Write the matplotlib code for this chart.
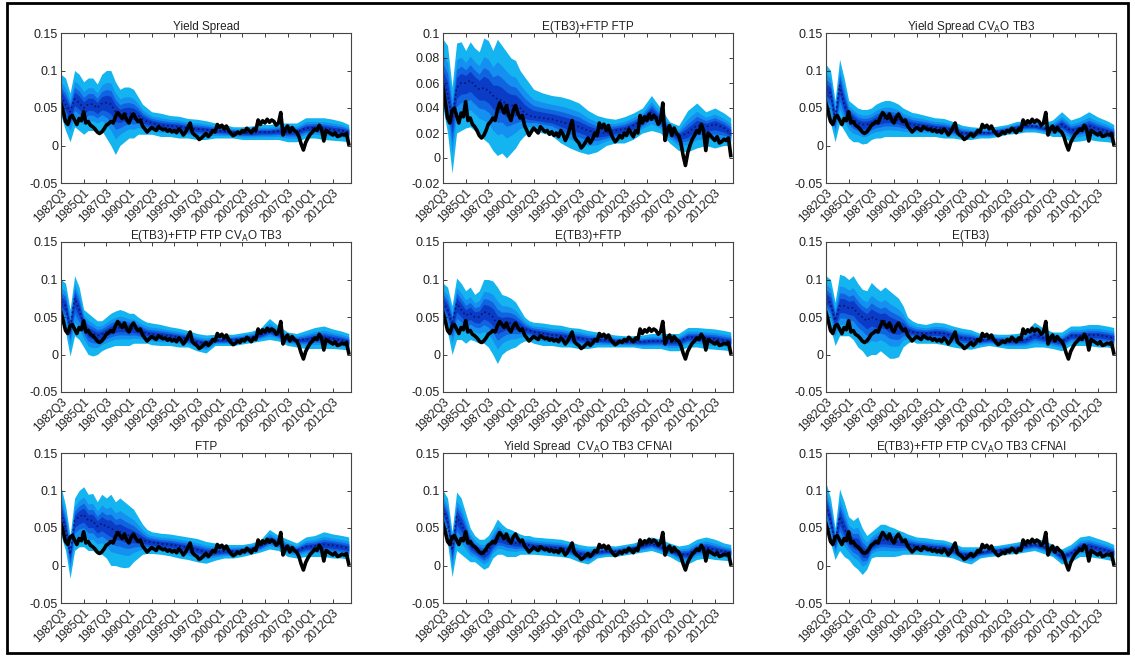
import numpy as np
import matplotlib.pyplot as plt
from matplotlib.patches import Rectangle
from matplotlib.ticker import FormatStrFormatter

plt.rcParams['font.family'] = ['Liberation Sans', 'DejaVu Sans']

# quarterly sample 1982Q3 .. 2014Q2, index 0 = 1982Q3
tick_pos = [0, 10, 20, 30, 40, 50, 60, 70, 80, 90, 100, 110, 120]
tick_labels = ['1982Q3', '1985Q1', '1987Q3', '1990Q1', '1992Q3', '1995Q1', '1997Q3',
               '2000Q1', '2002Q3', '2005Q1', '2007Q3', '2010Q1', '2012Q3']

# realised series (black line), same in every panel
realized = [.056, .045, .032, .028, .038, .040, .034, .028, .036, .033,
            .045, .030, .032, .027, .025, .022, .018, .016, .018, .022,
            .027, .029, .032, .030, .038, .044, .040, .036, .042, .034,
            .030, .038, .042, .036, .032, .034, .026, .022, .018, .021,
            .024, .022, .020, .025, .023, .021, .022, .019, .021, .018,
            .020, .017, .022, .019, .014, .018, .024, .030, .017, .014,
            .012, .008, .010, .013, .016, .012, .015, .020, .018, .028,
            .024, .027, .022, .026, .020, .016, .013, .015, .018, .016,
            .020, .018, .023, .020, .017, .022, .020, .034, .028, .033,
            .030, .035, .031, .034, .032, .027, .030, .044, .014, .022,
            .026, .018, .024, .020, .018, .012, .002, -.006, .004, .010,
            .015, .018, .022, .020, .027, .022, .006, .020, .018, .016,
            .014, .017, .012, .013, .015, .014, .016, .002]

# quarters at which the predictive distribution is stored
knots = list(range(0, 41, 2)) + list(range(44, 125, 4)) + [127]

# predictive median and 90% bounds for each model
ys_med = [.066, .055, .045, .062, .057, .05, .055, .055, .05, .056, .057, .055, .045, .04, .042, .043, .042, .04, .035, .032, .03,
          .027, .026, .025, .023, .022, .021, .02, .019, .018, .017, .017, .018, .018, .019, .018, .018, .023, .024, .023, .021, .02, .018]
ys_hi = [.095, .09, .07, .10, .095, .085, .09, .09, .082, .095, .10, .10, .085, .075, .078, .078, .075, .065, .055, .05, .045,
         .043, .04, .039, .036, .035, .033, .03, .028, .025, .025, .026, .028, .028, .03, .03, .03, .037, .037, .037, .035, .032, .028]
ys_lo = [.04, .02, .005, .025, .02, .015, .02, .02, .018, .02, .01, .0, -.012, .0, .005, .01, .01, .015, .015, .015, .015,
         .012, .012, .01, .01, .008, .008, .01, .01, .01, .008, .008, .008, .008, .008, .005, .005, .01, .01, .008, .007, .006, .005]

tpftp_med = [.062, .052, .03, .056, .06, .06, .062, .058, .055, .056, .054, .05, .047, .046, .043, .042, .042, .04, .036, .034, .033,
             .032, .031, .029, .027, .025, .022, .02, .02, .022, .023, .026, .03, .037, .03, .022, .017, .02, .026, .025, .027, .024, .02]
tpftp_hi = [.095, .09, .057, .092, .093, .086, .093, .088, .085, .096, .094, .086, .095, .09, .085, .08, .078, .07, .065, .06, .055,
            .052, .05, .049, .047, .044, .038, .034, .032, .031, .033, .036, .04, .05, .04, .029, .026, .038, .044, .037, .04, .036, .032]
tpftp_lo = [.04, .02, -.012, .02, .022, .024, .025, .022, .018, .015, .012, .006, .002, .004, .0, .004, .008, .014, .018, .02, .022,
            .02, .018, .012, .008, .005, .003, .005, .01, .012, .012, .015, .02, .022, .02, .012, .006, .005, .008, .01, .008, .01, .01]

yscva_med = [.075, .07, .035, .08, .055, .04, .035, .03, .028, .028, .03, .033, .035, .036, .036, .035, .034, .031, .03, .028, .027,
             .026, .024, .023, .021, .017, .016, .017, .017, .019, .021, .024, .026, .026, .023, .022, .028, .02, .022, .026, .022, .019, .016]
yscva_hi = [.108, .10, .06, .115, .09, .06, .055, .05, .048, .048, .05, .055, .058, .06, .06, .058, .055, .05, .047, .044, .043,
            .04, .037, .036, .032, .027, .025, .024, .024, .026, .028, .032, .033, .034, .03, .034, .045, .034, .038, .045, .038, .033, .028]
yscva_lo = [.04, .03, .005, .03, .02, .01, .005, .005, .002, .003, .008, .01, .01, .012, .012, .012, .012, .012, .012, .012, .012,
            .012, .012, .01, .01, .008, .008, .01, .01, .012, .015, .016, .018, .018, .016, .012, .012, .005, .006, .008, .006, .005, .004]

tpftpcva_med = [.07, .065, .035, .075, .06, .04, .03, .028, .025, .027, .03, .033, .035, .036, .036, .035, .034, .032, .03, .028, .027,
                .026, .025, .023, .021, .017, .015, .019, .019, .02, .021, .023, .026, .032, .027, .021, .019, .02, .022, .023, .021, .019, .017]
tpftpcva_hi = [.10, .095, .06, .105, .09, .06, .055, .05, .045, .045, .05, .055, .058, .06, .058, .055, .055, .05, .046, .043, .042,
               .04, .037, .035, .032, .028, .026, .027, .027, .027, .029, .031, .035, .048, .038, .03, .028, .032, .036, .038, .034, .031, .028]
tpftpcva_lo = [.045, .03, -.002, .025, .02, .01, .0, -.002, .0, .005, .008, .01, .012, .012, .012, .012, .015, .015, .015, .015, .013,
               .012, .012, .01, .01, .005, .002, .012, .012, .012, .014, .016, .018, .02, .018, .012, .01, .008, .008, .008, .008, .007, .006]

tp_med = [.07, .06, .04, .068, .06, .052, .055, .05, .05, .057, .055, .05, .04, .04, .042, .042, .04, .037, .034, .032, .03,
          .028, .026, .025, .023, .022, .02, .02, .019, .018, .017, .017, .017, .018, .018, .017, .017, .023, .023, .022, .021, .019, .018]
tp_hi = [.095, .09, .065, .102, .095, .085, .09, .08, .085, .10, .10, .098, .09, .08, .078, .075, .07, .06, .05, .045, .043,
         .042, .04, .039, .036, .035, .032, .03, .028, .026, .025, .025, .026, .028, .028, .028, .028, .036, .036, .035, .034, .032, .03]
tp_lo = [.045, .03, .0, .02, .02, .015, .02, .018, .015, .015, .01, .0, -.012, .0, .005, .008, .01, .015, .018, .018, .015,
         .012, .012, .01, .01, .008, .008, .01, .01, .01, .01, .01, .008, .008, .008, .005, .005, .01, .01, .008, .007, .006, .005]

etb3_med = [.075, .068, .045, .065, .065, .062, .062, .055, .05, .045, .05, .047, .045, .045, .04, .038, .036, .035, .032, .03, .029,
            .028, .029, .028, .025, .022, .021, .019, .02, .019, .018, .018, .019, .026, .022, .019, .017, .025, .025, .026, .026, .024, .022]
etb3_hi = [.105, .10, .07, .107, .105, .10, .105, .095, .087, .085, .096, .09, .085, .09, .085, .08, .075, .065, .05, .045, .042,
           .04, .043, .042, .038, .035, .033, .028, .028, .027, .027, .028, .03, .043, .035, .03, .03, .038, .038, .04, .04, .038, .036]
etb3_lo = [.05, .035, .012, .025, .025, .025, .02, .01, .005, -.003, .0, .0, .005, .0, -.005, -.005, -.003, .01, .015, .018, .015,
           .015, .015, .013, .01, .008, .007, .01, .012, .01, .008, .008, .008, .01, .01, .008, .005, .012, .012, .012, .01, .01, .008]

ftp_med = [.07, .05, .015, .06, .065, .068, .06, .06, .052, .056, .052, .05, .045, .045, .042, .04, .038, .036, .034, .032, .031,
           .029, .028, .026, .024, .021, .018, .018, .019, .019, .02, .022, .026, .034, .03, .023, .02, .025, .026, .028, .027, .025, .023]
ftp_hi = [.105, .08, .04, .09, .10, .105, .095, .096, .085, .095, .09, .095, .085, .09, .085, .08, .075, .065, .055, .048, .045,
          .043, .042, .04, .038, .036, .032, .03, .028, .028, .028, .03, .034, .048, .04, .035, .03, .038, .04, .045, .042, .04, .038]
ftp_lo = [.04, .02, -.017, .02, .025, .025, .02, .02, .015, .015, .01, .0, .0, -.002, -.003, -.002, .005, .01, .015, .016, .016,
          .015, .013, .01, .008, .005, .003, .007, .01, .01, .012, .015, .018, .022, .02, .012, .01, .012, .012, .012, .01, .01, .008]

yscf_med = [.075, .06, .02, .065, .055, .042, .028, .022, .018, .015, .02, .03, .036, .035, .033, .032, .03, .029, .028, .027, .026,
            .025, .024, .023, .021, .016, .014, .018, .019, .019, .021, .023, .026, .029, .025, .021, .015, .015, .022, .024, .021, .019, .017]
yscf_hi = [.10, .09, .045, .098, .09, .07, .05, .04, .035, .035, .04, .05, .062, .055, .05, .048, .045, .042, .04, .04, .038,
           .037, .036, .035, .032, .028, .026, .026, .027, .026, .028, .03, .034, .038, .035, .03, .026, .028, .035, .038, .035, .03, .028]
yscf_lo = [.045, .03, -.015, .02, .015, .01, .005, .005, .0, -.005, -.002, .01, .015, .015, .012, .012, .012, .015, .015, .015, .015,
           .014, .013, .012, .01, .005, .002, .01, .012, .012, .014, .016, .018, .02, .016, .012, .005, .002, .008, .01, .008, .007, .006]

tpcf_med = [.08, .06, .03, .065, .05, .035, .03, .028, .018, .015, .027, .031, .034, .034, .033, .032, .031, .03, .028, .027, .026,
            .025, .024, .023, .02, .015, .014, .017, .019, .02, .022, .023, .026, .028, .025, .02, .012, .016, .025, .026, .023, .02, .017]
tpcf_hi = [.11, .09, .05, .102, .085, .065, .06, .065, .05, .04, .045, .05, .055, .055, .052, .05, .047, .045, .042, .04, .038,
           .037, .035, .034, .03, .025, .025, .025, .026, .027, .029, .031, .034, .036, .034, .028, .022, .028, .038, .04, .036, .032, .028]
tpcf_lo = [.05, .03, .008, .02, .012, .008, .0, -.005, -.012, -.005, .01, .012, .012, .012, .012, .012, .013, .015, .015, .015, .015,
           .014, .013, .012, .01, .005, .002, .01, .012, .013, .015, .016, .018, .02, .016, .012, .002, .005, .012, .012, .01, .008, .006]

titles = ['Yield Spread', 'E(TB3)+FTP FTP', r'Yield Spread CV$_\mathrm{A}$O TB3',
          r'E(TB3)+FTP FTP CV$_\mathrm{A}$O TB3', 'E(TB3)+FTP', 'E(TB3)',
          'FTP', r'Yield Spread  CV$_\mathrm{A}$O TB3 CFNAI', r'E(TB3)+FTP FTP CV$_\mathrm{A}$O TB3 CFNAI']
meds = [ys_med, tpftp_med, yscva_med, tpftpcva_med, tp_med, etb3_med, ftp_med, yscf_med, tpcf_med]
his = [ys_hi, tpftp_hi, yscva_hi, tpftpcva_hi, tp_hi, etb3_hi, ftp_hi, yscf_hi, tpcf_hi]
los = [ys_lo, tpftp_lo, yscva_lo, tpftpcva_lo, tp_lo, etb3_lo, ftp_lo, yscf_lo, tpcf_lo]

# 90/70/50/30 % intervals as share of the 90% interval (normal quantiles)
band_scale = np.array([1.645, 1.036, 0.674, 0.385]) / 1.645
band_colors = ['#14b4f0', '#1490f0', '#1064e0', '#0a3cc8']

W, H = 1135, 658
fig = plt.figure(figsize=(W / 100, H / 100), dpi=100)
fig.patches.append(Rectangle((7 / W, 1 - 653 / H), 1121 / W, 650 / H, transform=fig.transFigure,
                             fill=False, edgecolor='black', linewidth=2))

lefts = [61, 443, 826]
tops = [33, 242, 453]
x = np.array(knots)

for i in range(9):
    r, c = divmod(i, 3)
    ax = fig.add_axes([lefts[c] / W, 1 - (tops[r] + 150) / H, 290 / W, 150 / H])
    med = np.array(meds[i])
    hi = np.array(his[i])
    lo = np.array(los[i])
    for s, col in zip(band_scale, band_colors):
        ax.fill_between(x, med - s * (med - lo), med + s * (hi - med), color=col, linewidth=0)
    ax.plot(x, med, ':', color='#0a1464', linewidth=1.2)
    ax.plot(np.arange(len(realized)), realized, color='black', linewidth=2.6)

    ax.set_xlim(0, 128)
    if i == 1:
        ax.set_ylim(-0.02, 0.1)
        ax.set_yticks(np.arange(-0.02, 0.101, 0.02))
    else:
        ax.set_ylim(-0.05, 0.15)
        ax.set_yticks([-0.05, 0, 0.05, 0.1, 0.15])
    ax.yaxis.set_major_formatter(FormatStrFormatter('%g'))
    ax.set_xticks(tick_pos)
    ax.set_xticklabels(tick_labels, rotation=45, ha='right', rotation_mode='anchor')
    ax.tick_params(direction='in', top=True, right=True, length=3, width=0.6,
                   labelsize=9, colors='#222222', pad=2)
    ax.tick_params(axis='x', labelsize=8.5, pad=3)
    for sp in ax.spines.values():
        sp.set_color('#444444')
        sp.set_linewidth(0.8)
    ax.set_title(titles[i], fontsize=8.5, pad=2, color='#222222')

plt.savefig('out.png', dpi=100)
